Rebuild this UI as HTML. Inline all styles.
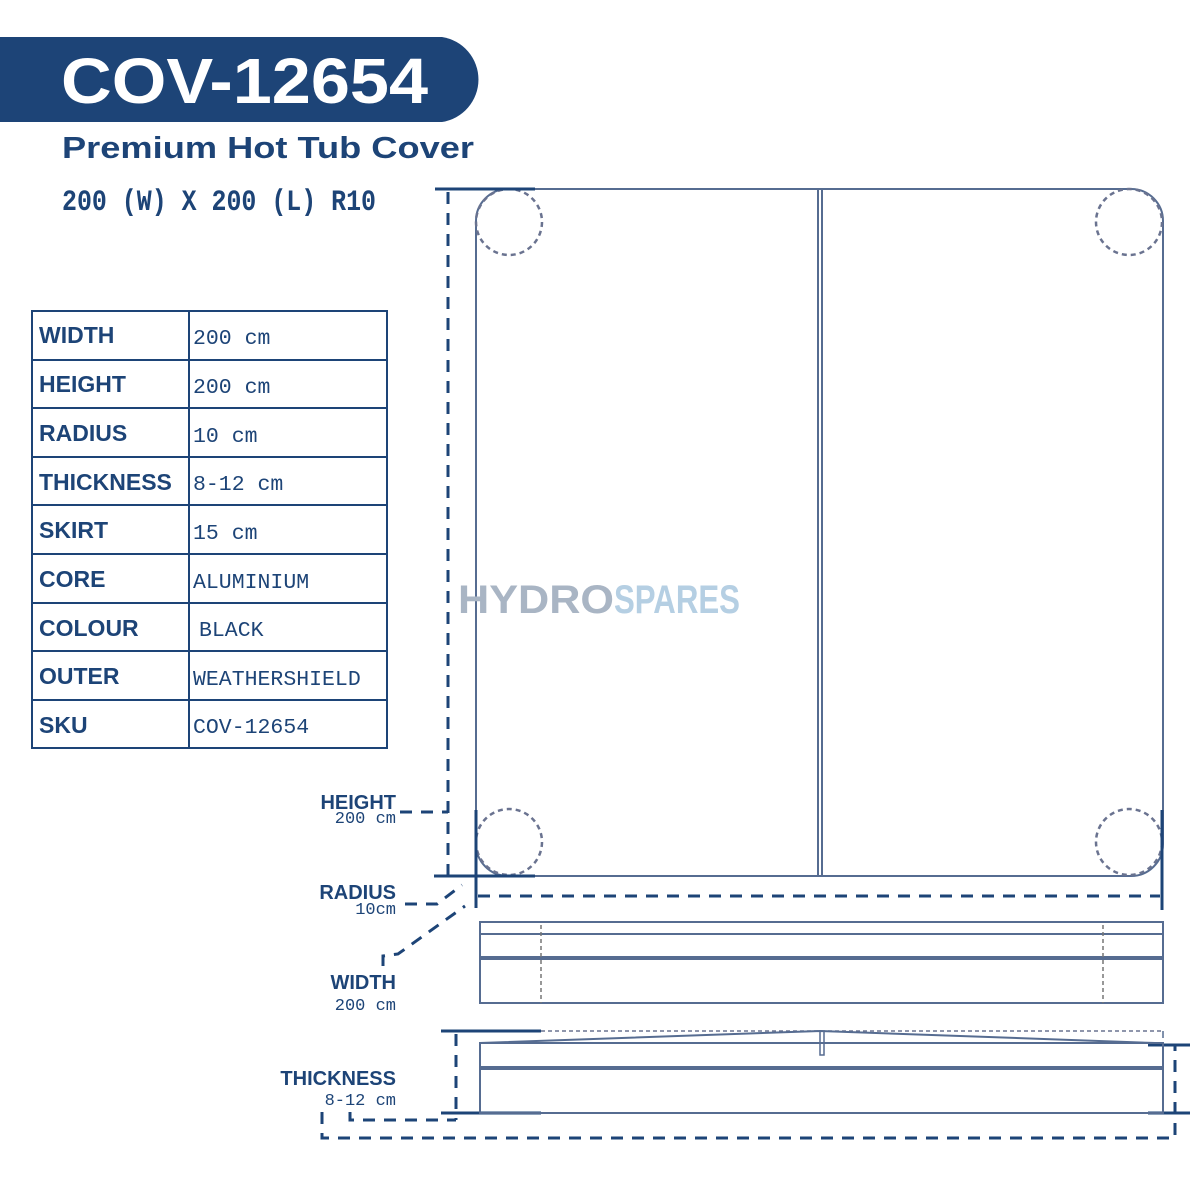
<!DOCTYPE html>
<html><head><meta charset="utf-8"><style>
html,body{margin:0;padding:0;background:#fff;}
body{width:1200px;height:1200px;position:relative;overflow:hidden;font-family:"Liberation Sans",sans-serif;}
</style></head><body>
<svg width="1200" height="1200" viewBox="0 0 1200 1200" xmlns="http://www.w3.org/2000/svg" style="position:absolute;left:0;top:0">
<!-- header bar -->
<path d="M0 37 H442 A43 43 0 0 1 442 122 H0 Z" fill="#1d4477"/>
<text x="61" y="103" font-family="Liberation Sans" font-weight="bold" font-size="64" fill="#fff" textLength="367" lengthAdjust="spacingAndGlyphs">COV-12654</text>
<text x="62" y="158" font-family="Liberation Sans" font-weight="bold" font-size="31" fill="#1d4477" textLength="412" lengthAdjust="spacingAndGlyphs">Premium Hot Tub Cover</text>
<text x="62" y="210" font-family="Liberation Mono" font-weight="bold" font-size="30" fill="#1d4477" textLength="314" lengthAdjust="spacingAndGlyphs">200 (W) X 200 (L) R10</text>

<!-- table -->
<g stroke="#1d4477" stroke-width="2" fill="none">
<rect x="32" y="311" width="355" height="437"/>
<line x1="189" y1="311" x2="189" y2="748"/>
<line x1="32" y1="360" x2="387" y2="360"/><line x1="32" y1="408" x2="387" y2="408"/>
<line x1="32" y1="457" x2="387" y2="457"/><line x1="32" y1="505" x2="387" y2="505"/>
<line x1="32" y1="554" x2="387" y2="554"/><line x1="32" y1="603" x2="387" y2="603"/>
<line x1="32" y1="651" x2="387" y2="651"/><line x1="32" y1="700" x2="387" y2="700"/>
</g>
<g font-family="Liberation Sans" font-weight="bold" font-size="23" fill="#1d4477">
<text x="39" y="343">WIDTH</text><text x="39" y="392">HEIGHT</text><text x="39" y="441">RADIUS</text>
<text x="39" y="490">THICKNESS</text><text x="39" y="538">SKIRT</text><text x="39" y="587">CORE</text>
<text x="39" y="636">COLOUR</text><text x="39" y="684">OUTER</text><text x="39" y="733">SKU</text>
</g>
<g font-family="Liberation Mono" font-size="21.5" fill="#1d4477">
<text x="193" y="344">200 cm</text><text x="193" y="393">200 cm</text><text x="193" y="442">10 cm</text>
<text x="193" y="490">8-12 cm</text><text x="193" y="539">15 cm</text><text x="193" y="588">ALUMINIUM</text>
<text x="199" y="636">BLACK</text><text x="193" y="685">WEATHERSHIELD</text><text x="193" y="733">COV-12654</text>
</g>

<!-- main top view -->
<rect x="476" y="189" width="687" height="687" rx="32" fill="none" stroke="#566c91" stroke-width="2"/>
<line x1="818" y1="189" x2="818" y2="876" stroke="#566c91" stroke-width="2"/>
<line x1="822" y1="189" x2="822" y2="876" stroke="#566c91" stroke-width="2"/>
<g fill="none" stroke="#6a7390" stroke-width="2.5" stroke-dasharray="5 4">
<circle cx="509" cy="222" r="33"/><circle cx="1129" cy="222" r="33"/>
<circle cx="509" cy="842" r="33"/><circle cx="1129" cy="842" r="33"/>
</g>
<text x="458" y="613" font-family="Liberation Sans" font-weight="bold" font-size="40" fill="#a9b5c4" textLength="156" lengthAdjust="spacingAndGlyphs">HYDRO</text>
<text x="614" y="613" font-family="Liberation Sans" font-weight="bold" font-size="40" fill="#b5cfe3" textLength="126" lengthAdjust="spacingAndGlyphs">SPARES</text>

<!-- dimension lines -->
<g stroke="#1d4477" stroke-width="3" fill="none">
<line x1="435" y1="189" x2="535" y2="189"/>
<line x1="434" y1="876" x2="535" y2="876"/>
<line x1="476" y1="810" x2="476" y2="908"/>
<line x1="1162" y1="810" x2="1162" y2="910"/>
<line x1="441" y1="1031" x2="541" y2="1031"/>
<line x1="441" y1="1113" x2="541" y2="1113"/>
<line x1="1148" y1="1045" x2="1190" y2="1045"/>
<line x1="1148" y1="1113" x2="1190" y2="1113"/>
</g>
<g stroke="#1d4477" stroke-width="3" fill="none" stroke-dasharray="12 9">
<line x1="448" y1="192" x2="448" y2="876"/>
<polyline points="400,812 448,812"/>
<line x1="478" y1="896" x2="1160" y2="896"/>
<polyline points="405,904 437,904 462,885"/>
<polyline points="383,966 383,956 398,954 465,906"/>
<line x1="456" y1="1034" x2="456" y2="1120"/>
<polyline points="350,1112 350,1120 456,1120"/>
<polyline points="322,1112 322,1138 1175,1138 1175,1045"/>
</g>

<!-- side view 1 -->
<g stroke="#566c91" fill="none">
<rect x="480" y="922" width="683" height="81" stroke-width="2"/>
<line x1="480" y1="934" x2="1163" y2="934" stroke-width="2"/>
<line x1="480" y1="958" x2="1163" y2="958" stroke-width="4"/>
<line x1="541" y1="925" x2="541" y2="1003" stroke-width="1.5" stroke-dasharray="4 3" stroke="#777"/>
<line x1="1103" y1="925" x2="1103" y2="1003" stroke-width="1.5" stroke-dasharray="4 3" stroke="#777"/>
</g>

<!-- side view 2 -->
<g stroke="#566c91" fill="none">
<line x1="541" y1="1031" x2="1163" y2="1031" stroke-width="1.5" stroke-dasharray="4 3" stroke="#6a7390"/>
<line x1="1163" y1="1031" x2="1163" y2="1038" stroke-width="1.5"/>
<line x1="480" y1="1043" x2="1163" y2="1043" stroke-width="1.5" stroke-dasharray="4 3" stroke="#6a7390"/>
<polyline points="480,1043 820,1031 1155,1043" stroke-width="2"/>
<path d="M820 1032 V1055 H824 V1032" stroke-width="1.5"/>
<rect x="480" y="1043" width="683" height="70" stroke-width="2"/>
<line x1="480" y1="1068" x2="1163" y2="1068" stroke-width="4"/>
</g>

<!-- labels -->
<g font-family="Liberation Sans" font-weight="bold" font-size="20" fill="#1d4477" text-anchor="end">
<text x="396" y="809">HEIGHT</text>
<text x="396" y="899">RADIUS</text>
<text x="396" y="989">WIDTH</text>
<text x="396" y="1085">THICKNESS</text>
</g>
<g font-family="Liberation Mono" font-size="17" fill="#1d4477" text-anchor="end">
<text x="396" y="823">200 cm</text>
<text x="396" y="914">10cm</text>
<text x="396" y="1010">200 cm</text>
<text x="396" y="1105">8-12 cm</text>
</g>
</svg>
</body></html>
